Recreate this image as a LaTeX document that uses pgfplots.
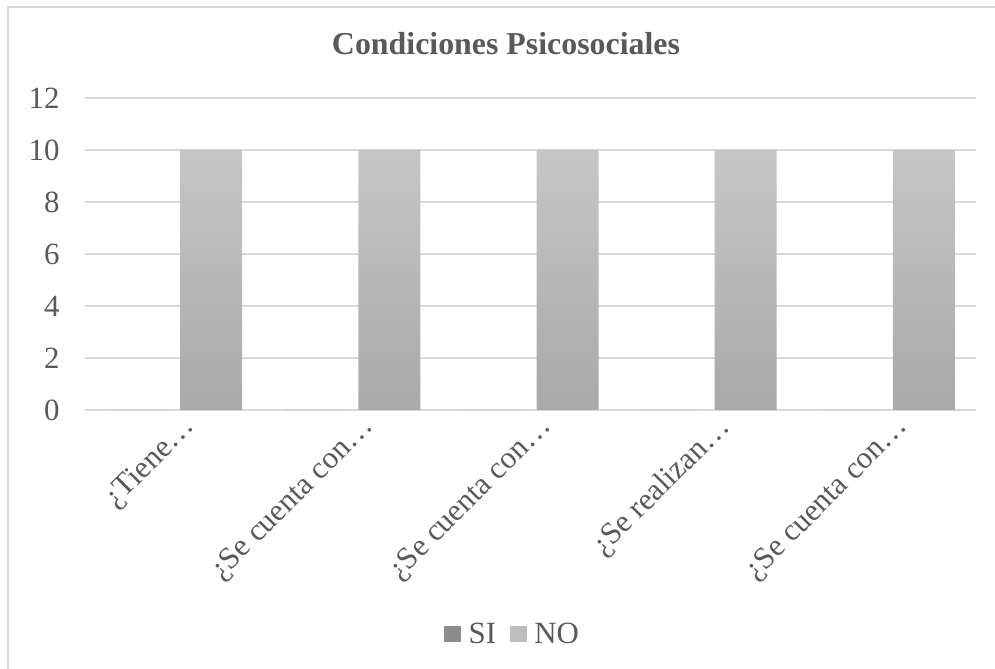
\documentclass[border=0pt]{standalone}
\usepackage{pgfplots}
\pgfplotsset{compat=1.18}
\usepackage{fontspec}
\setmainfont{Liberation Serif}

\definecolor{txt}{HTML}{595959}
\definecolor{gridcol}{HTML}{D9D9D9}
\definecolor{barTop}{HTML}{C6C6C6}
\definecolor{barBot}{HTML}{A9A9A9}
\definecolor{siCol}{HTML}{8C8C8C}
\definecolor{noCol}{HTML}{BDBDBD}

\begin{document}
\begin{tikzpicture}
\useasboundingbox (0,0) rectangle (995bp,669bp);
% outer frame (only left and top are visible)
\draw[gridcol, line width=1.5bp] (8bp,0) -- (8bp,662bp) -- (995bp,662bp);

\node[text=txt, font=\fontsize{32}{38}\selectfont\bfseries, anchor=base]
  at (506bp,614bp) {Condiciones Psicosociales};

\begin{axis}[
    at={(85bp,259bp)}, anchor=south west,
    scale only axis,
    width=891bp, height=312bp,
    xmin=-0.5, xmax=4.5,
    ymin=0, ymax=12,
    ytick={0,2,...,12},
    xtick={0,1,2,3,4},
    xticklabels={¿Tiene…, ¿Se cuenta con…, ¿Se cuenta con…, ¿Se realizan…, ¿Se cuenta con…},
    axis line style={draw=none},
    major tick length=0pt,
    xmajorgrids=false,
    ymajorgrids=true,
    grid style={draw=gridcol, line width=1.2bp},
    /pgf/number format/assume math mode=true,
    tick label style={text=txt, font=\fontsize{31}{37}\selectfont},
    yticklabel style={xshift=-22bp},
    xticklabel style={rotate=45, anchor=north east, xshift=6bp, yshift=-4bp},
    legend columns=2,
    legend style={at={(0.48,-0.718)}, anchor=center, draw=none, fill=none,
        font=\fontsize{31}{37}\selectfont, text=txt,
        /tikz/every even column/.append style={column sep=12bp}},
    legend image code/.code={\fill[#1, draw=none] (0bp,-8bp) rectangle (17bp,8bp);
        \path (22bp,0);},
]
% SI
\addplot[ybar, bar width=62bp, bar shift=-37bp, draw=none, fill=siCol, forget plot]
  coordinates {(0,0) (1,0) (2,0) (3,0) (4,0)};
% NO
\addplot[ybar, bar width=62bp, bar shift=37bp, draw=none,
    top color=barTop, bottom color=barBot, forget plot]
  coordinates {(0,10) (1,10) (2,10) (3,10) (4,10)};

\addlegendimage{fill=siCol}
\addlegendentry{SI}
\addlegendimage{fill=noCol}
\addlegendentry{NO}
\end{axis}
\end{tikzpicture}
\end{document}
